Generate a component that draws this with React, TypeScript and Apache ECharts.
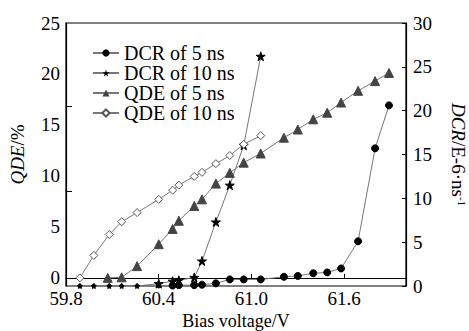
import React, { useEffect, useRef } from "react";
import * as echarts from "echarts";

const xTicks = [59.8, 60.4, 61.0, 61.6];
const qdeLabels = [0, 5, 10, 15, 20, 25];
const qdeOddTicks = [8.5, 16.85];

const xDcr5 = [59.89, 59.98, 60.08, 60.16, 60.26, 60.4, 60.49, 60.53, 60.63, 60.68, 60.77, 60.86, 60.95, 61.06, 61.21, 61.3, 61.4, 61.49, 61.58, 61.69, 61.8, 61.89];
const dcr5 = [0, 0, 0, 0, 0, 0, 0.05, 0.1, 0.1, 0.15, 0.3, 0.75, 0.75, 0.75, 1.05, 1.15, 1.45, 1.55, 2.0, 5.1, 15.7, 20.6];

const xDcr10 = [59.89, 59.98, 60.08, 60.16, 60.26, 60.4, 60.49, 60.53, 60.63, 60.68, 60.77, 60.86, 60.95, 61.06];
const dcr10 = [0, 0, 0, 0, 0, 0.27, 0.55, 0.65, 0.98, 2.85, 7.3, 11.5, 16.05, 26.2];

const xQde5 = [60.07, 60.16, 60.26, 60.4, 60.49, 60.53, 60.63, 60.68, 60.77, 60.86, 60.95, 61.06, 61.21, 61.3, 61.4, 61.49, 61.58, 61.69, 61.8, 61.89];
const qde5 = [0, 0.05, 1.15, 3.3, 4.8, 5.6, 7.05, 7.7, 9.25, 10.3, 11.3, 12.2, 13.75, 14.55, 15.55, 16.2, 17.2, 18.35, 19.3, 20.1];

const xQde10 = [59.89, 59.98, 60.08, 60.16, 60.26, 60.4, 60.49, 60.53, 60.63, 60.68, 60.77, 60.86, 60.95, 61.06];
const qde10 = [0, 2.2, 4.25, 5.5, 6.4, 7.7, 8.6, 9.1, 9.95, 10.35, 11.2, 12.0, 13.1, 13.95];

const FONT = '"Liberation Serif", "Times New Roman", serif';
const STAR = "path://M50,0 L61,35 L98,35 L68,57 L79,91 L50,70 L21,91 L32,57 L2,35 L39,35 Z";
const LINE = "#777";
const FS = 19;

const pairs = (xs: number[], ys: number[]) => xs.map((x, i) => [x, ys[i]]);

export default function App() {
  const ref = useRef<HTMLDivElement>(null);
  useEffect(() => {
    document.body.style.margin = "0";
    const chart = echarts.init(ref.current!, null, { renderer: "svg" });
    const zeroSmall = (big: number) => (v: number[]) => (v[1] === 0 ? big * 0.55 : big);
    chart.setOption({
      animation: false,
      backgroundColor: "#fff",
      textStyle: { fontFamily: FONT, color: "#000" },
      grid: {
        left: 66, right: 63, top: 23, bottom: 45,
        show: true, borderColor: "#000", borderWidth: 1.2,
        containLabel: false, outerBoundsMode: "none",
      },
      legend: {
        orient: "vertical", left: 87, top: 38,
        itemWidth: 26, itemHeight: 9, itemGap: 0,
        textStyle: { fontFamily: FONT, fontSize: 20, lineHeight: 20, color: "#000" },
        data: ["DCR of 5 ns", "DCR of 10 ns", "QDE of 5 ns", "QDE of 10 ns"],
      },
      xAxis: {
        type: "value", min: 59.8, max: 62.0,
        name: "Bias voltage/V", nameLocation: "middle", nameGap: 26,
        nameTextStyle: { fontFamily: FONT, fontSize: 18, color: "#000" },
        axisLine: { show: true, lineStyle: { color: "#000", width: 1.2 } },
        axisTick: { show: true, inside: true, length: 4, customValues: xTicks, lineStyle: { color: "#000" } },
        axisLabel: { show: false },
        splitLine: { show: false },
      },
      yAxis: [
        {
          type: "value", min: -0.8, max: 25, position: "left",
          name: "{i|QDE}/%", nameLocation: "middle", nameGap: 39, nameRotate: 90,
          nameTextStyle: { fontFamily: FONT, fontSize: FS, color: "#000", rich: { i: { fontStyle: "italic", fontFamily: FONT, fontSize: FS } } },
          axisLine: { show: true, lineStyle: { color: "#000", width: 1.2 } },
          axisTick: { show: true, inside: true, length: 6, customValues: qdeOddTicks, lineStyle: { color: "#000" } },
          axisLabel: { customValues: qdeLabels, fontFamily: FONT, fontSize: FS, color: "#000", margin: 6 },
          splitLine: { show: false },
        },
        {
          type: "value", min: 0, max: 30, interval: 5, position: "right",
          name: "{i|DCR}/E-6·ns{s|-1}", nameLocation: "middle", nameGap: 43, nameRotate: -90,
          nameTextStyle: {
            fontFamily: FONT, fontSize: FS, color: "#000",
            rich: {
              i: { fontStyle: "italic", fontFamily: FONT, fontSize: FS },
              s: { fontFamily: FONT, fontSize: 11, padding: [0, 0, 7, 0] },
            },
          },
          axisLine: { show: true, lineStyle: { color: "#000", width: 1.2 } },
          axisTick: { show: true, inside: true, length: 4, lineStyle: { color: "#000" } },
          axisLabel: { fontFamily: FONT, fontSize: FS, color: "#000", margin: 7 },
          splitLine: { show: false },
        },
      ],
      series: [
        {
          name: "DCR of 5 ns", type: "line", yAxisIndex: 1, data: pairs(xDcr5, dcr5),
          symbol: "circle", symbolSize: zeroSmall(7),
          lineStyle: { color: LINE, width: 1 }, itemStyle: { color: "#000", borderColor: "#000" },
        },
        {
          name: "DCR of 10 ns", type: "line", yAxisIndex: 1, data: pairs(xDcr10, dcr10),
          symbol: STAR, symbolSize: zeroSmall(9),
          lineStyle: { color: LINE, width: 1 }, itemStyle: { color: "#000", borderColor: "#000" },
        },
        {
          name: "QDE of 5 ns", type: "line", yAxisIndex: 0, data: pairs(xQde5, qde5),
          symbol: "triangle", symbolSize: 9,
          lineStyle: { color: LINE, width: 1 }, itemStyle: { color: "#444", borderColor: "#444" },
        },
        {
          name: "QDE of 10 ns", type: "line", yAxisIndex: 0, data: pairs(xQde10, qde10),
          symbol: "diamond", symbolSize: 8,
          lineStyle: { color: LINE, width: 1 }, itemStyle: { color: "#fff", borderColor: "#555", borderWidth: 1 },
        },
      ],
    });
    // x-axis tick labels placed through the axis scale
    const axisY = chart.convertToPixel({ yAxisIndex: 1 }, 0) as number;
    chart.setOption({
      graphic: xTicks.map((v) => ({
        type: "text",
        x: chart.convertToPixel({ xAxisIndex: 0 }, v) as number,
        y: axisY + 3,
        silent: true,
        style: {
          text: v.toFixed(1), fontFamily: FONT, fontSize: FS, fill: "#000",
          align: "center", verticalAlign: "top",
        },
      })),
    });
    return () => chart.dispose();
  }, []);
  return <div ref={ref} style={{ width: 469, height: 331 }} />;
}
